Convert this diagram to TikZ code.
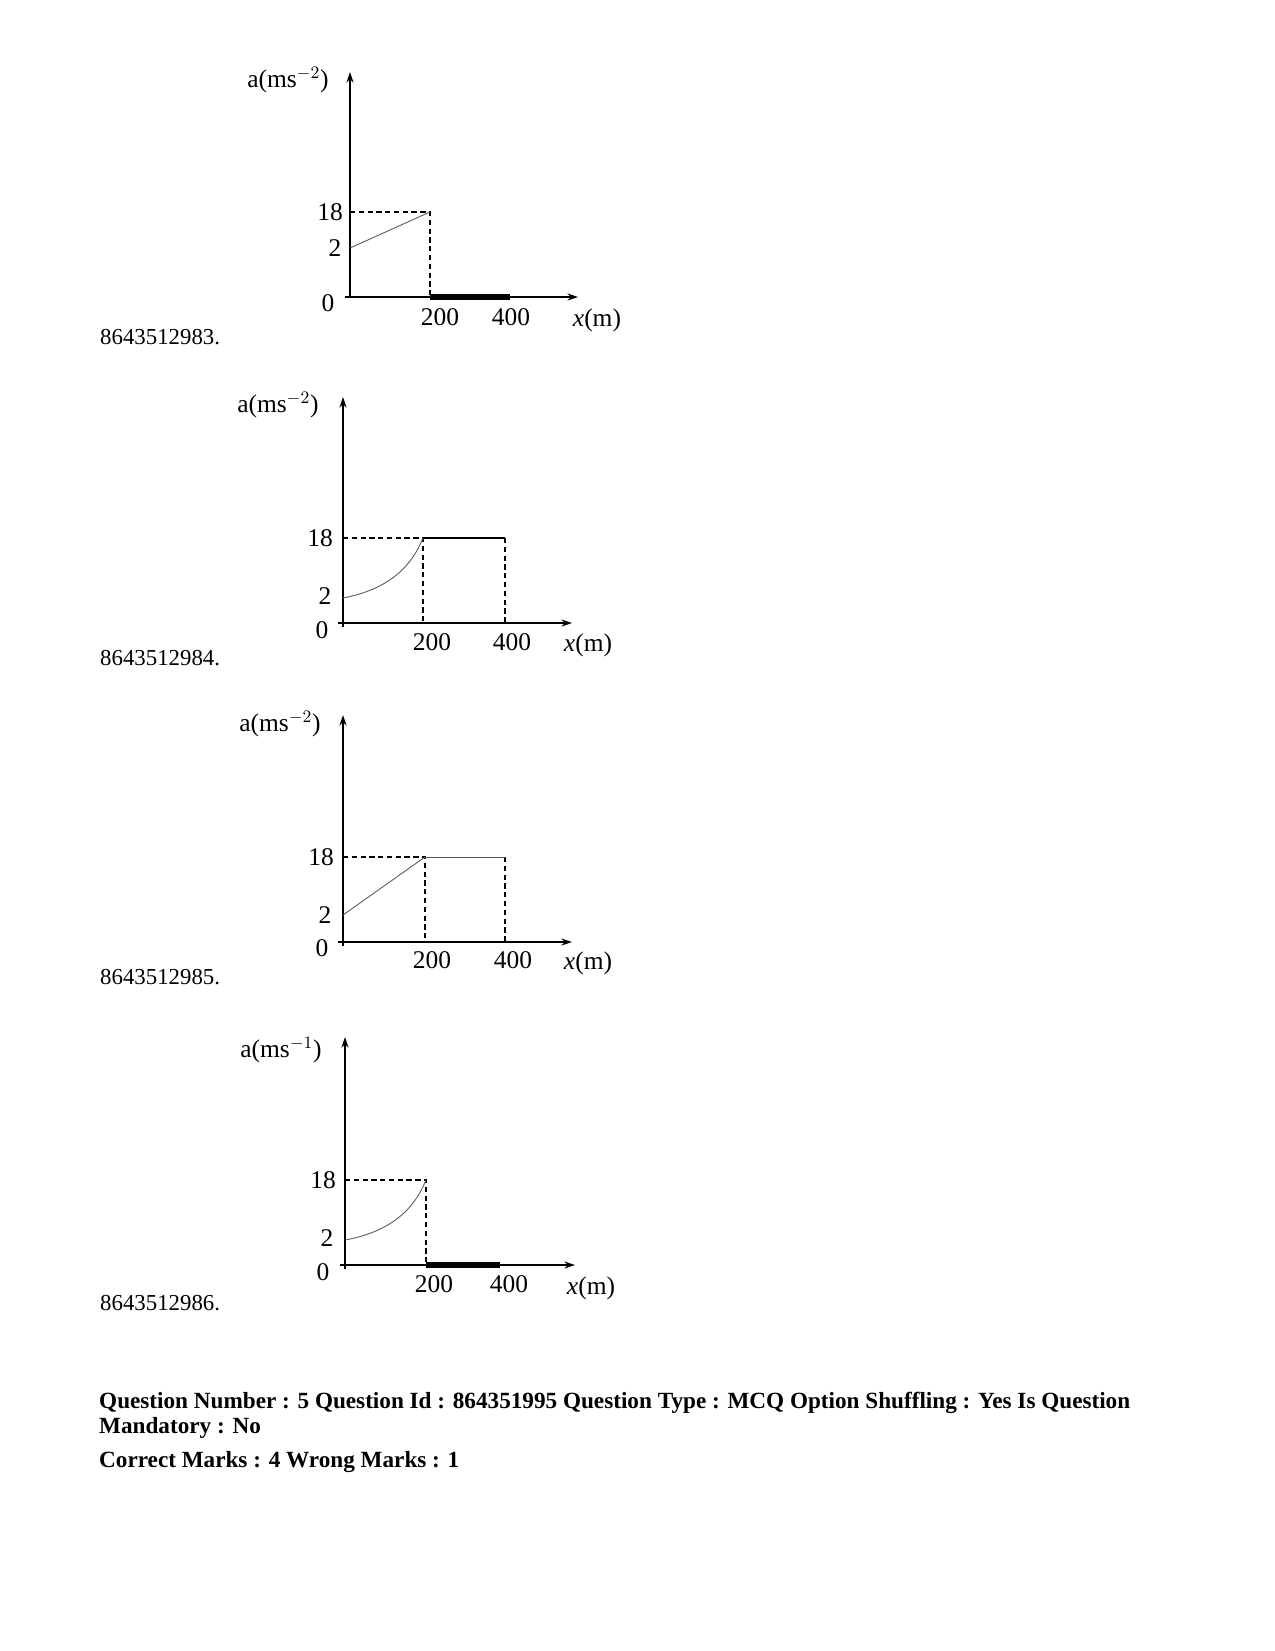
\documentclass[tikz,border=0pt]{standalone}
\usepackage{fontspec}
\setmainfont{Liberation Serif}
\usetikzlibrary{arrows.meta}
\begin{document}
\begin{tikzpicture}[x=0.02cm,y=-0.02cm,
  ax/.style={-{Stealth[length=6pt,width=4pt]},line width=0.8pt},
  dsh/.style={line width=0.6pt,dash pattern=on 3pt off 2pt},
  crv/.style={line width=0.5pt,gray!70!black},
  bar/.style={line width=3pt},
  lab/.style={font=\fontsize{14.5}{16}\selectfont},
  idt/.style={font=\fontsize{13}{15}\selectfont,anchor=west},
  bq/.style={font=\bfseries\fontsize{13.2}{15}\selectfont,anchor=west}]
\useasboundingbox (0,0) rectangle (1275,1651);
% Graph 1
\draw[ax] (350,297) -- (350,72);
\draw[ax] (345,297) -- (578,297);
\draw[dsh] (350,212) -- (430,212) -- (430,297);
\draw[crv] (350,248) -- (430,212);
\draw[bar] (430,297) -- (510,297);
\node[lab] at (288,80) {a(ms$^{-2}$)};
\node[lab] at (330,212) {18};
\node[lab] at (335,248) {2};
\node[lab] at (328,303) {0};
\node[lab] at (440,317) {200};
\node[lab] at (511,317) {400};
\node[lab] at (597,320) {\textit{x}(m)};
\node[idt] at (94,337) {8643512983.};
% Graph 2
\draw[ax] (343,627) -- (343,397);
\draw[ax] (338,623) -- (572,623);
\draw[dsh] (343,538) -- (423,538) -- (423,623);
\draw[dsh] (505,538) -- (505,623);
\draw[line width=0.8pt] (423,538) -- (505,538);
\draw[crv] (343,598) .. controls (385,590) and (410,570) .. (423,538);
\node[lab] at (278,405) {a(ms$^{-2}$)};
\node[lab] at (320,538) {18};
\node[lab] at (325,596) {2};
\node[lab] at (322,630) {0};
\node[lab] at (432,642) {200};
\node[lab] at (512,642) {400};
\node[lab] at (588,645) {\textit{x}(m)};
\node[idt] at (94,658) {8643512984.};
% Graph 3
\draw[ax] (343,946) -- (343,715);
\draw[ax] (338,942) -- (572,942);
\draw[dsh] (343,857) -- (425,857) -- (425,942);
\draw[dsh] (505,857) -- (505,942);
\draw[crv] (425,857) -- (505,857);
\draw[crv] (343,915) -- (425,857);
\node[lab] at (280,724) {a(ms$^{-2}$)};
\node[lab] at (321,857) {18};
\node[lab] at (325,915) {2};
\node[lab] at (322,948) {0};
\node[lab] at (432,960) {200};
\node[lab] at (513,960) {400};
\node[lab] at (588,963) {\textit{x}(m)};
\node[idt] at (94,977) {8643512985.};
% Graph 4
\draw[ax] (345,1269) -- (345,1037);
\draw[ax] (340,1265) -- (575,1265);
\draw[dsh] (345,1180) -- (426,1180) -- (426,1265);
\draw[crv] (345,1240) .. controls (388,1232) and (413,1212) .. (426,1180);
\draw[bar] (426,1265) -- (500,1265);
\node[lab] at (281,1050) {a(ms$^{-1}$)};
\node[lab] at (323,1180) {18};
\node[lab] at (327,1238) {2};
\node[lab] at (323,1272) {0};
\node[lab] at (434,1284) {200};
\node[lab] at (509,1284) {400};
\node[lab] at (591,1288) {\textit{x}(m)};
\node[idt] at (94,1303) {8643512986.};
% Bottom text
\node[bq] at (93,1403) {Question Number : 5 Question Id : 864351995 Question Type : MCQ Option Shuffling : Yes Is Question};
\node[bq] at (93,1428) {Mandatory : No};
\node[bq] at (93,1462) {Correct Marks : 4 Wrong Marks : 1};
\end{tikzpicture}
\end{document}
